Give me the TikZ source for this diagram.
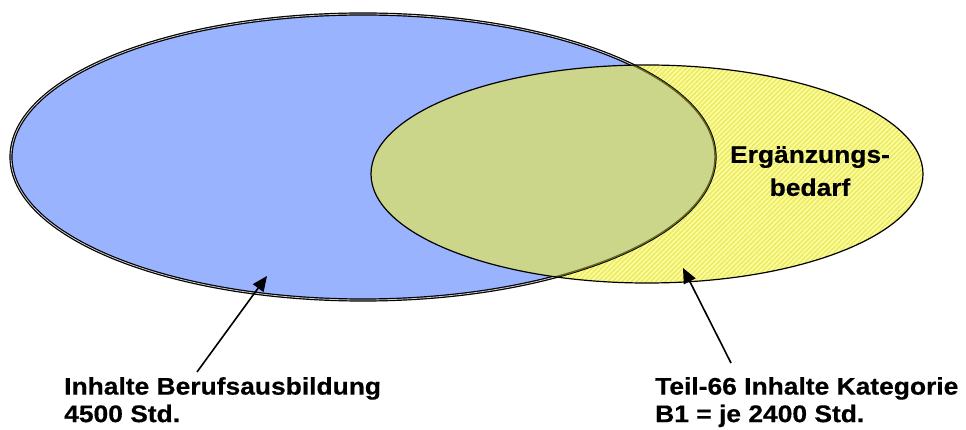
\documentclass[tikz,border=0pt]{standalone}
\usepackage{fontspec}
\setmainfont{Liberation Sans}
\usetikzlibrary{arrows.meta,patterns.meta}

\definecolor{berufsblue}{RGB}{153,179,255}
\definecolor{partyellow}{RGB}{236,236,105}
\definecolor{stripeyellow}{RGB}{255,255,165}
\definecolor{overlapgreen}{RGB}{204,214,138}
\definecolor{overlapedge}{RGB}{100,100,30}

\newfontfamily\labelfont{Liberation Sans Bold}[FakeStretch=1.1, FakeBold=0.5]

\tikzset{
  label text/.style={font=\labelfont\fontsize{24}{27.5}\selectfont, inner sep=0pt, align=left},
  pointer/.style={line width=1.6pt, -{Triangle[length=15pt,width=13pt]}},
}

\begin{document}
\begin{tikzpicture}[x=1pt,y=-1pt]
  \useasboundingbox (0,0) rectangle (966,430);

  % Part-66 contents: hatched yellow ellipse
  \path[fill=partyellow] (647,174) ellipse [x radius=276, y radius=109];
  \path[pattern={Lines[angle=45,distance=3.4pt,line width=1.3pt]}, pattern color=stripeyellow]
    (647,174) ellipse [x radius=276, y radius=109];

  % Vocational training contents: blue ellipse with double rim
  \path[fill=berufsblue, draw=black, line width=1.2pt, double=gray!40, double distance=0.8pt]
    (363,157) ellipse [x radius=352, y radius=143];

  % Overlap of both contents
  \begin{scope}
    \clip (647,174) ellipse [x radius=276, y radius=109];
    \path[fill=overlapgreen] (363,157) ellipse [x radius=352, y radius=143];
    \path[draw=overlapedge, line width=1.4pt] (363,157) ellipse [x radius=352, y radius=143];
  \end{scope}
  \path[draw=black, line width=1.2pt] (647,174) ellipse [x radius=276, y radius=109];

  % Texts
  \node[font=\labelfont\fontsize{24}{33}\selectfont, inner sep=0pt, align=center, anchor=north]
    (extra) at (810,146) {Ergänzungs-\\bedarf};
  \node[label text, anchor=north west] (lblBeruf) at (64,377)
    {Inhalte Berufsausbildung\\4500 Std.};
  \node[label text, anchor=north west] (lblTeil) at (655,377)
    {Teil-66 Inhalte Kategorie\\B1 = je 2400 Std.};

  % Pointers
  \coordinate (tipBeruf) at (267,276);
  \coordinate (tailBeruf) at (197,372);
  \coordinate (tipTeil) at (683,268);
  \coordinate (tailTeil) at (731,363);
  \draw[pointer] (tailBeruf) -- (tipBeruf);
  \draw[pointer] (tailTeil) -- (tipTeil);
\end{tikzpicture}
\end{document}
